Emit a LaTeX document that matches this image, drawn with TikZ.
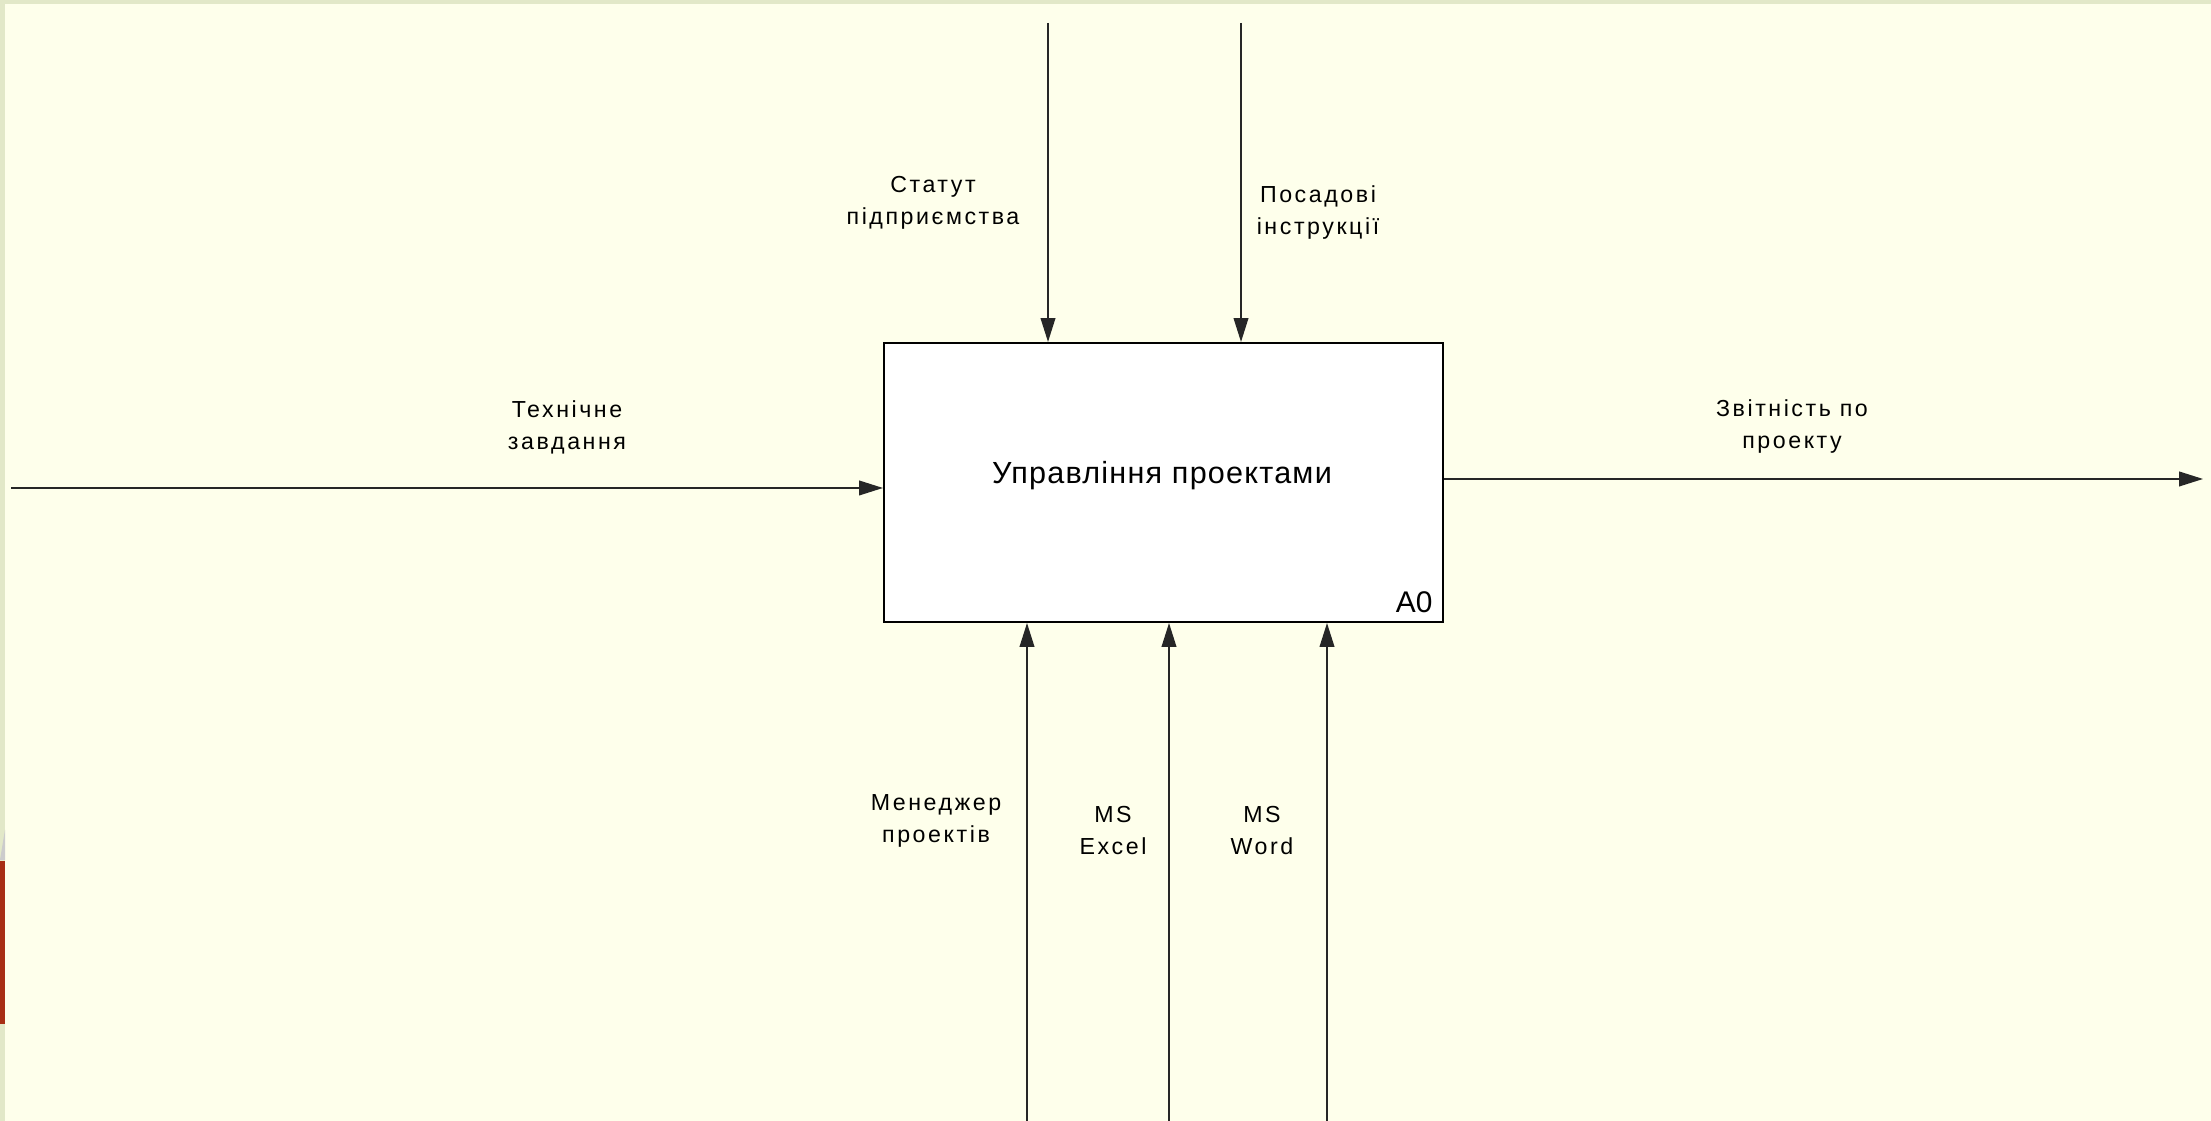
\documentclass[tikz,border=0pt]{standalone}
\usepackage{fontspec}
\setmainfont{Liberation Sans}
\newfontfamily\lblfont[LetterSpace=11]{Liberation Sans}
\newfontfamily\boxfont[LetterSpace=4]{Liberation Sans}
\usetikzlibrary{positioning, arrows.meta}
\definecolor{slidebg}{RGB}{254,255,235}
\definecolor{slideedge}{RGB}{226,232,200}
\definecolor{slidered}{RGB}{168,46,20}

\begin{document}
\begin{tikzpicture}[
    arr/.style={-{Triangle[length=6.8pt,width=4.2pt]}, line width=0.4pt, draw=black!85},
    lbl/.style={align=center, inner sep=0pt, font=\lblfont\fontsize{6.6}{9.1}\selectfont},
    ]
    \useasboundingbox (0,0) rectangle (22.11,11.21);
    % slide background
    \fill[slideedge] (0,0) rectangle (22.11,11.21);
    \fill[slidebg] (0.05,0) rectangle (22.11,11.17);
    \fill[slidered] (0,0.97) rectangle (0.05,2.60);
    \fill[black!20] (0,2.61) -- (0.05,2.61) -- (0.05,2.91) -- cycle;

    \node[draw, fill=white, line width=0.6pt, minimum width=5.59cm, minimum height=2.79cm, inner sep=0pt] (P) at (11.635,6.385) {};
    \node[inner sep=0pt, font=\boxfont\fontsize{8.7}{10}\selectfont] (Pname) at (11.62,6.45) {Управління проектами};
    \node[anchor=south east, inner sep=0pt, font=\fontsize{8.5}{10}\selectfont] (Pnum) at ([shift={(-0.11,0.10)}]P.south east) {A0};

    \coordinate (T1) at (10.48,10.98);
    \coordinate (T2) at (12.41,10.98);
    \coordinate (L1) at (0.11,6.33);
    \coordinate (R1) at (22.03,6.42);
    \coordinate (B1) at (10.27,0);
    \coordinate (B2) at (11.69,0);
    \coordinate (B3) at (13.27,0);

    \draw[arr] (T1) -- (T1 |- P.north);
    \draw[arr] (T2) -- (T2 |- P.north);
    \draw[arr] (L1) -- (L1 -| P.west);
    \draw[arr] (R1 -| P.east) -- (R1);
    \draw[arr] (B1) -- (B1 |- P.south);
    \draw[arr] (B2) -- (B2 |- P.south);
    \draw[arr] (B3) -- (B3 |- P.south);

    \node[lbl] (lT1) at (9.33,9.18) {Статут\\підприємства};
    \node[lbl] (lT2) at (13.18,9.08) {Посадові\\інструкції};
    \node[lbl] (lL1) at (5.67,6.94) {Технічне\\завдання};
    \node[lbl] (lR1) at (17.92,6.94) {Звітність по\\проекту};
    \node[lbl] (lB1) at (9.36,3.00) {Менеджер\\проектів};
    \node[lbl] (lB2) at (11.13,2.90) {MS\\Excel};
    \node[lbl] (lB3) at (12.62,2.90) {MS\\Word};
\end{tikzpicture}
\end{document}
